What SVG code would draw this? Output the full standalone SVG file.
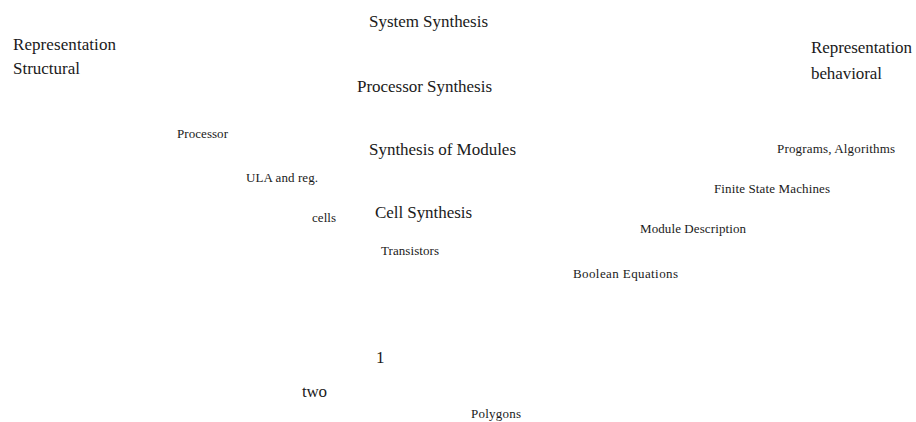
<svg xmlns="http://www.w3.org/2000/svg" width="916" height="422" viewBox="0 0 916 422">
  <style>
    text { fill: #1a1a1a; }
    .lg { font-size: 17px; }
    .sm { font-size: 13px; }
  </style>
  <rect width="916" height="422" fill="#ffffff"/>
  <g font-family="'Liberation Serif', 'Times New Roman', serif" lengthAdjust="spacing">
  <!-- axis titles -->
  <g id="structural-title">
    <text class="lg" x="13" y="50" textLength="103">Representation</text>
    <text class="lg" x="13" y="74" textLength="67">Structural</text>
  </g>
  <g id="behavioral-title">
    <text class="lg" x="811" y="53" textLength="101">Representation</text>
    <text class="lg" x="811" y="79" textLength="71">behavioral</text>
  </g>
  <!-- synthesis levels -->
  <g id="system-synthesis"><text class="lg" x="369" y="27" textLength="119">System Synthesis</text></g>
  <g id="processor-synthesis"><text class="lg" x="357" y="92" textLength="135">Processor Synthesis</text></g>
  <g id="module-synthesis"><text class="lg" x="369" y="155" textLength="147">Synthesis of Modules</text></g>
  <g id="cell-synthesis"><text class="lg" x="375" y="218" textLength="97">Cell Synthesis</text></g>
  <!-- structural axis -->
  <g id="processor"><text class="sm" x="177" y="138" textLength="51">Processor</text></g>
  <g id="ula"><text class="sm" x="246" y="182" textLength="72">ULA and reg.</text></g>
  <g id="cells"><text class="sm" x="312" y="222" textLength="24">cells</text></g>
  <g id="transistors"><text class="sm" x="381" y="255" textLength="58">Transistors</text></g>
  <!-- behavioral axis -->
  <g id="programs"><text class="sm" x="777" y="153" textLength="118">Programs, Algorithms</text></g>
  <g id="fsm"><text class="sm" x="714" y="193" textLength="116">Finite State Machines</text></g>
  <g id="module-description"><text class="sm" x="640" y="233" textLength="106">Module Description</text></g>
  <g id="boolean"><text class="sm" x="573" y="278" textLength="105">Boolean Equations</text></g>
  <!-- geometric axis -->
  <g id="one"><text class="lg" x="376" y="363">1</text></g>
  <g id="two"><text class="lg" x="302" y="397" textLength="25">two</text></g>
  <g id="polygons"><text class="sm" x="471" y="418" textLength="50">Polygons</text></g>
  </g>
  <g id="connectors"></g>
</svg>
